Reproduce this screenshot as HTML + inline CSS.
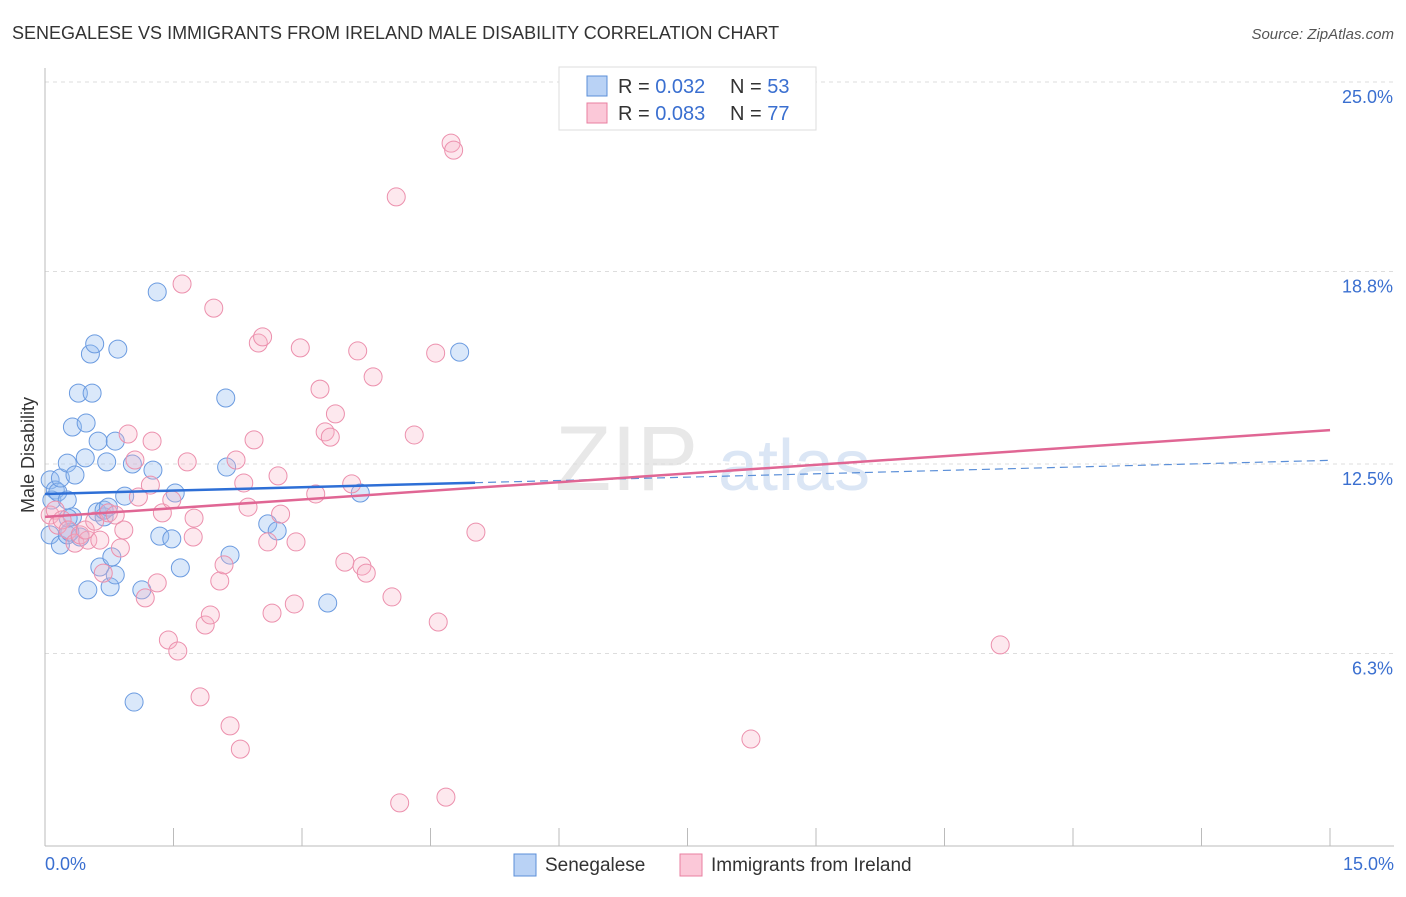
<!DOCTYPE html>
<html><head><meta charset="utf-8"><style>
body{margin:0;background:#fff;font-family:"Liberation Sans",sans-serif}
svg text{font-family:"Liberation Sans",sans-serif}
</style></head><body>
<svg width="1406" height="892" id="chart">
<text x="12" y="39" font-size="18" fill="#333">SENEGALESE VS IMMIGRANTS FROM IRELAND MALE DISABILITY CORRELATION CHART</text>
<text x="1394" y="39" font-size="15" fill="#555" font-style="italic" text-anchor="end">Source: ZipAtlas.com</text>
<text x="555" y="490" font-size="92" fill="#e8e8e8" font-family="Liberation Serif">ZIP</text>
<text x="718" y="490" font-size="72" fill="#dbe6f5">atlas</text>
<g id="grid"></g>
<g id="axes"></g>
<g id="pts"></g>
<g id="trends"></g>
<text x="34" y="455" font-size="18" fill="#333" text-anchor="middle" transform="rotate(-90 34 455)">Male Disability</text>
<g>
<rect x="559" y="67" width="257" height="63" fill="#fff" stroke="#ddd"/>
<rect x="587" y="76" width="20" height="20" fill="#b9d2f5" stroke="#5b8fd8"/>
<rect x="587" y="103" width="20" height="20" fill="#fbc8d8" stroke="#e87fa0"/>
<text x="618" y="93" font-size="20" fill="#333">R = <tspan fill="#3a6fd0">0.032</tspan></text>
<text x="730" y="93" font-size="20" fill="#333">N = <tspan fill="#3a6fd0">53</tspan></text>
<text x="618" y="120" font-size="20" fill="#333">R = <tspan fill="#3a6fd0">0.083</tspan></text>
<text x="730" y="120" font-size="20" fill="#333">N = <tspan fill="#3a6fd0">77</tspan></text>
</g>
<g>
<rect x="514" y="854" width="22" height="22" fill="#b9d2f5" stroke="#5b8fd8"/>
<text x="545" y="871" font-size="19" fill="#333">Senegalese</text>
<rect x="680" y="854" width="22" height="22" fill="#fbc8d8" stroke="#e87fa0"/>
<text x="711" y="871" font-size="19" fill="#333">Immigrants from Ireland</text>
</g>
</svg>
<script>
const yTicks=[25.0,18.8,12.5,6.3];
const yTickLabels=["25.0%","18.8%","12.5%","6.3%"];
const xTickLabels=["0.0%","15.0%"];
const bluePx=[[50,480],[55,490],[52,500],[58,492],[60,478],[67,463],[67,500],[75,475],[50,535],[60,545],[67,535],[72,517],[72,427],[78,393],[85,458],[86,423],[90,354],[95,344],[92,393],[98,441],[107,462],[115,441],[118,349],[97,512],[104,517],[104,510],[125,496],[132,464],[153,470],[157,292],[175,493],[160,536],[172,539],[180,568],[226,398],[227,467],[230,555],[268,524],[277,531],[328,603],[360,493],[460,352],[100,567],[112,557],[110,587],[115,575],[88,590],[134,702],[80,537],[142,590],[70,532],[68,518],[108,507]];
const pinkPx=[[50,515],[55,510],[58,525],[62,520],[68,530],[75,543],[80,535],[88,540],[85,530],[95,521],[100,540],[103,573],[108,513],[115,515],[120,548],[124,530],[128,434],[135,460],[138,497],[145,598],[150,485],[152,441],[157,583],[162,513],[168,640],[172,500],[178,651],[182,284],[187,462],[194,518],[193,537],[200,697],[205,625],[210,615],[214,308],[220,581],[224,565],[230,726],[236,460],[240,749],[244,483],[248,507],[254,440],[258,343],[263,337],[268,542],[272,613],[278,476],[281,514],[294,604],[296,542],[300,348],[316,494],[320,389],[325,432],[330,437],[335,414],[345,562],[352,484],[358,351],[362,566],[366,573],[373,377],[392,597],[396,197],[400,803],[414,435],[436,353],[438,622],[446,797],[451,143],[454,150],[476,532],[751,739],[1000,645]];
const toX=p=>(p-45)/85.67, toY=p=>25-(p-82)/30.56;
const blueX=bluePx.map(p=>+toX(p[0]).toFixed(2)), blueY=bluePx.map(p=>+toY(p[1]).toFixed(2));
const pinkX=pinkPx.map(p=>+toX(p[0]).toFixed(2)), pinkY=pinkPx.map(p=>+toY(p[1]).toFixed(2));
const blueTrend=[11.52,12.62], pinkTrend=[10.77,13.61];
const X=v=>45+v*85.67, Y=v=>82+(25-v)*30.56;
const NS="http://www.w3.org/2000/svg";
function mk(t,a,parent){const e=document.createElementNS(NS,t);for(const k in a)e.setAttribute(k,a[k]);document.getElementById(parent).appendChild(e);return e;}
yTicks.forEach((v,i)=>{
 const l=mk('line',{x1:45,x2:1394,y1:Y(v),y2:Y(v),stroke:'#ddd','stroke-dasharray':'4 4'},'grid');
 
 
 const t=mk('text',{x:1393,y:Y(v)+21,'font-size':18,fill:'#3a6fd0','text-anchor':'end'},'grid');
 t.textContent=yTickLabels[i];
 
 
});
const ax=mk('line',{x1:45,x2:45,y1:68,y2:846,stroke:'#bbb'},'axes');


const bx=mk('line',{x1:45,x2:1394,y1:846,y2:846,stroke:'#bbb'},'axes');


for(let i=1;i<=10;i++){const tx=45+i*128.5;const t=mk('line',{x1:tx,x2:tx,y1:828,y2:846,stroke:'#bbb'},'axes');
 
 }
[[45,'start',0],[1394,'end',1]].forEach(([x,a,i])=>{const t=mk('text',{x:x,y:870,'font-size':18,fill:'#3a6fd0','text-anchor':a},'axes');t.textContent=xTickLabels[i];
 
 });
blueX.forEach((x,i)=>{const c=mk('circle',{cx:X(x),cy:Y(blueY[i]),r:9,fill:'rgba(150,190,240,0.35)',stroke:'#6b9be0','stroke-width':1},'pts');
 
 });
pinkX.forEach((x,i)=>{const c=mk('circle',{cx:X(x),cy:Y(pinkY[i]),r:9,fill:'rgba(250,180,200,0.3)',stroke:'#ec90ad','stroke-width':1},'pts');
 
 });
const bs=(blueTrend[1]-blueTrend[0])/15, bmid=blueTrend[0]+bs*5.02;
const b1=mk('line',{x1:X(0),y1:Y(blueTrend[0]),x2:X(5.02),y2:Y(bmid),stroke:'#2e6fd6','stroke-width':2.5},'trends');


const b2=mk('line',{x1:X(5.02),y1:Y(bmid),x2:X(15),y2:Y(blueTrend[1]),stroke:'#5b8fd8','stroke-width':1.2,'stroke-dasharray':'8 5'},'trends');


const p1=mk('line',{x1:X(0),y1:Y(pinkTrend[0]),x2:X(15),y2:Y(pinkTrend[1]),stroke:'#e06694','stroke-width':2.5},'trends');


</script>
</body></html>
